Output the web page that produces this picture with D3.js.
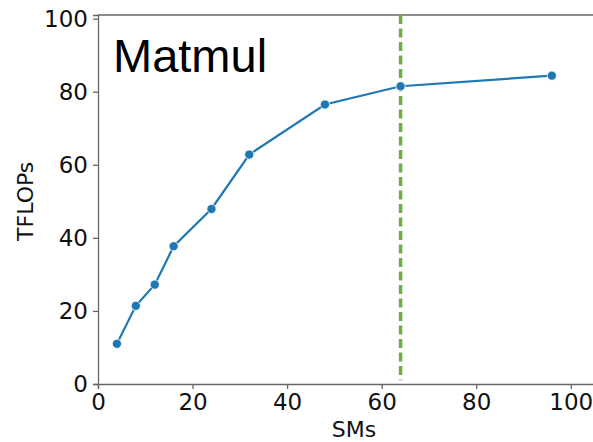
<!DOCTYPE html>
<html>
<head>
<meta charset="utf-8">
<script src="https://cdn.jsdelivr.net/npm/d3@7"></script>
<style>
  body { margin: 0; background: #fff; }
  svg { display: block; }
</style>
</head>
<body>
<div id="chart"></div>
<script>
// Data
const sms = [4, 8, 12, 16, 24, 32, 48, 64, 96];
const tflops = [11.0, 21.4, 27.2, 37.7, 47.9, 62.8, 76.5, 81.5, 84.4];
const xTicks = [0, 20, 40, 60, 80, 100];
const yTicks = [0, 20, 40, 60, 80, 100];
const markerSM = 64;

const width = 593, height = 442;
const margins = {top: 15, right: -17, bottom: 58, left: 98};

const svg = d3.select("#chart")
  .append("svg")
  .attr("width", width)
  .attr("height", height);

// x: 0..100 spans 98 -> 571, axis continues off the right edge
const xScale = d3.scaleLinear()
  .domain([0, 108.3])
  .range([margins.left, width - margins.right]);

const yScale = d3.scaleLinear()
  .domain([0, 101])
  .range([height - margins.bottom, margins.top]);

const font = "'DejaVu Sans', sans-serif";

/* Axes */
const xAxis = d3.axisBottom(xScale).tickValues(xTicks).tickSize(5).tickPadding(5);
const yAxis = d3.axisLeft(yScale).tickValues(yTicks).tickSize(5).tickPadding(5);

const xGroup = svg.append("g")
  .attr("transform", `translate(0,${yScale(0)})`)
  .call(xAxis);

const yGroup = svg.append("g")
  .attr("transform", `translate(${xScale(0)},0)`)
  .call(yAxis);

[xGroup, yGroup].forEach(g => {
  g.select(".domain").attr("stroke", "#666").attr("stroke-width", 1.3);
  g.selectAll(".tick line").attr("stroke", "#666").attr("stroke-width", 1.3);
  g.selectAll(".tick text")
    .style("font-family", font)
    .style("font-size", "23px")
    .attr("fill", "#111");
});

// top spine
svg.append("line")
  .attr("x1", xScale(0)).attr("x2", width)
  .attr("y1", yScale(101)).attr("y2", yScale(101))
  .attr("stroke", "#666").attr("stroke-width", 1.3);

/* Vertical dashed marker */
svg.append("line")
  .attr("x1", xScale(markerSM)).attr("x2", xScale(markerSM))
  .attr("y1", yScale(101)).attr("y2", yScale(1))
  .attr("stroke", "#70ad47")
  .attr("stroke-width", 3.5)
  .attr("stroke-dasharray", "9,4.5");

/* Line + markers */
const pts = sms.map((s, i) => ({x: s, y: tflops[i]}));

const line = d3.line()
  .x(d => xScale(d.x))
  .y(d => yScale(d.y));

svg.append("path")
  .datum(pts)
  .attr("d", line)
  .attr("fill", "none")
  .attr("stroke", "#1f77b4")
  .attr("stroke-width", 2.2);

svg.append("g")
  .selectAll("circle")
  .data(pts)
  .join("circle")
    .attr("cx", d => xScale(d.x))
    .attr("cy", d => yScale(d.y))
    .attr("r", 4.6)
    .attr("fill", "#1f77b4")
    .attr("stroke", "#fff")
    .attr("stroke-width", 0.8);

/* Labels */
svg.append("text")
  .attr("x", 354)
  .attr("y", 437)
  .style("text-anchor", "middle")
  .style("font-family", font)
  .style("font-size", "22px")
  .attr("fill", "#111")
  .text("SMs");

svg.append("text")
  .attr("transform", `translate(33,${(yScale(0) + yScale(100)) / 2}) rotate(-90)`)
  .style("text-anchor", "middle")
  .style("font-family", font)
  .style("font-size", "22px")
  .attr("fill", "#111")
  .text("TFLOPs");

svg.append("text")
  .attr("x", 113)
  .attr("y", 72)
  .style("font-family", "'Liberation Sans', Arial, sans-serif")
  .style("font-size", "47px")
  .attr("fill", "#000")
  .text("Matmul");
</script>
</body>
</html>
